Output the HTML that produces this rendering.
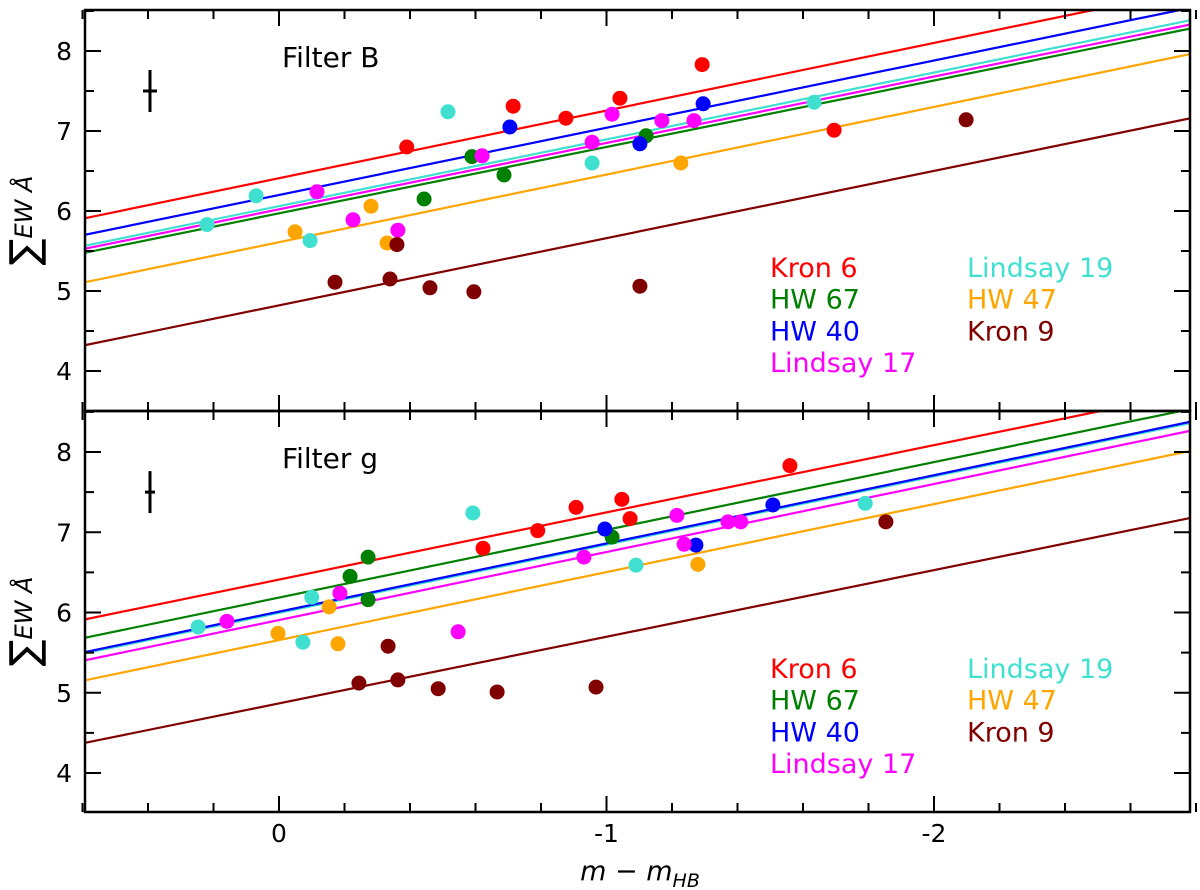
<!DOCTYPE html>
<html><head><meta charset="utf-8">
<style>
html,body{margin:0;padding:0;background:#fff;}
svg{display:block;font-family:"DejaVu Sans","Liberation Sans",sans-serif;}
</style></head>
<body>
<svg id="chart" width="1200" height="890" viewBox="0 0 1200 890" xmlns="http://www.w3.org/2000/svg">
<defs>
<clipPath id="clipTop"><rect x="85" y="10" width="1105" height="401"/></clipPath>
<clipPath id="clipBot"><rect x="85" y="411" width="1105" height="401"/></clipPath>
</defs>
<g id="plot"></g>
</svg>
<script>
// ---- data ----
const clusters = ["Kron 6","HW 67","HW 40","Lindsay 17","Lindsay 19","HW 47","Kron 9"];
const colors = ["#ff0000","#008000","#0000ff","#ff00ff","#40e0d0","#ffa500","#800000"];
const xTicks = [0,-1,-2];
const xTickLabels = ["0","-1","-2"];
const yTicks = [4,5,6,7,8];
const yTickLabels = ["4","5","6","7","8"];

// Filter B panel
const bX_kron6 = [-0.39,-0.715,-0.876,-1.041,-1.292,-1.695];
const bY_kron6 = [6.80,7.31,7.16,7.41,7.83,7.01];
const bX_hw67 = [-0.589,-0.687,-0.443,-1.121];
const bY_hw67 = [6.68,6.45,6.15,6.94];
const bX_hw40 = [-0.705,-1.102,-1.295];
const bY_hw40 = [7.05,6.84,7.34];
const bX_l17 = [-0.116,-0.226,-0.363,-0.62,-0.956,-1.017,-1.169,-1.267];
const bY_l17 = [6.24,5.89,5.76,6.69,6.86,7.21,7.13,7.13];
const bX_l19 = [-0.516,-0.956,0.22,0.07,-0.095,-1.634];
const bY_l19 = [7.24,6.60,5.83,6.19,5.63,7.36];
const bX_hw47 = [-0.049,-0.281,-0.33,-1.227];
const bY_hw47 = [5.74,6.06,5.60,6.60];
const bX_kron9 = [-0.171,-0.339,-0.36,-0.461,-0.595,-1.102,-2.098];
const bY_kron9 = [5.11,5.15,5.58,5.04,4.99,5.06,7.14];
const bIntercepts = [6.41,5.97,6.20,6.02,6.06,5.61,4.82];
const bSlopes = [0.845,0.83,0.84,0.83,0.835,0.845,0.84];

// Filter g panel
const gX_kron6 = [-0.623,-0.79,-0.907,-1.047,-1.072,-1.56];
const gY_kron6 = [6.80,7.02,7.31,7.41,7.17,7.83];
const gX_hw67 = [-0.272,-0.217,-0.272,-1.017];
const gY_hw67 = [6.69,6.45,6.16,6.94];
const gX_hw40 = [-0.995,-1.273,-1.508];
const gY_hw40 = [7.04,6.84,7.34];
const gX_l17 = [0.159,-0.186,-0.547,-0.931,-1.215,-1.237,-1.371,-1.41];
const gY_l17 = [5.89,6.24,5.76,6.69,7.21,6.85,7.13,7.13];
const gX_l19 = [0.247,-0.10,-0.073,-0.592,-1.09,-1.79];
const gY_l19 = [5.82,6.19,5.63,7.24,6.59,7.36];
const gX_hw47 = [0.003,-0.153,-0.18,-1.279];
const gY_hw47 = [5.74,6.07,5.61,6.60];
const gX_kron9 = [-0.244,-0.363,-0.486,-0.666,-0.968,-0.333,-1.853];
const gY_kron9 = [5.12,5.16,5.05,5.01,5.07,5.58,7.13];
const gIntercepts = [6.41,6.185,6.01,5.906,5.995,5.656,4.867];
const gSlopes = [0.837,0.844,0.85,0.847,0.85,0.847,0.83];

// ---- drawing ----
const NS = "http://www.w3.org/2000/svg";
const root = document.getElementById("plot");
const X0 = 85, X1 = 1190;
const xMin = 0.592, xMax = -2.783;
function xs(v){ return 279 - 327.5*v; }
const panels = [
  {top:10, bottom:411, y8:51, k:80, clip:"clipTop", title:"Filter B", pre:"b",
   xs:[bX_kron6,bX_hw67,bX_hw40,bX_l17,bX_l19,bX_hw47,bX_kron9],
   ys:[bY_kron6,bY_hw67,bY_hw40,bY_l17,bY_l19,bY_hw47,bY_kron9],
   ic:bIntercepts, sl:bSlopes},
  {top:411, bottom:812, y8:452, k:80.25, clip:"clipBot", title:"Filter g", pre:"g",
   xs:[gX_kron6,gX_hw67,gX_hw40,gX_l17,gX_l19,gX_hw47,gX_kron9],
   ys:[gY_kron6,gY_hw67,gY_hw40,gY_l17,gY_l19,gY_hw47,gY_kron9],
   ic:gIntercepts, sl:gSlopes}
];
function mk(tag, attrs, parent){
  const e = document.createElementNS(NS, tag);
  for (const k in attrs) e.setAttribute(k, attrs[k]);
  (parent||root).appendChild(e);
  return e;
}
const lineOrder = [6,5,1,3,4,2,0];
panels.forEach((p, pi) => {
  const ys = v => p.y8 + (8 - v)*p.k;
  const g = mk("g", {});
  
  
  // fit lines
  const lg = mk("g", {"clip-path":"url(#"+p.clip+")"}, g);
  lineOrder.forEach(i => {
    const yl = p.ic[i] - p.sl[i]*xMin, yr = p.ic[i] - p.sl[i]*xMax;
    const l = mk("line", {x1:X0, y1:ys(yl), x2:X1, y2:ys(yr), stroke:colors[i], "stroke-width":2.2}, lg);
    
    
  });
  // points
  const pg = mk("g", {"clip-path":"url(#"+p.clip+")"}, g);
  for (let i = 0; i < clusters.length; i++) {
    p.xs[i].forEach((xv, j) => {
      const c = mk("circle", {cx:xs(xv), cy:ys(p.ys[i][j]), r:7.5, fill:colors[i]}, pg);
      
      
    });
  }
  // frame
  const fr = mk("rect", {x:X0, y:p.top, width:X1-X0, height:p.bottom-p.top, fill:"none", stroke:"#000", "stroke-width":2.5}, g);
  
  
  // x ticks
  for (let t = 6; t >= -28; t -= 2) {
    const v = t/10, x = xs(v), major = (t % 10 === 0);
    const len = major ? 16 : 9;
    mk("line", {x1:x, y1:p.bottom, x2:x, y2:p.bottom-len, stroke:"#000", "stroke-width":2}, g);
    mk("line", {x1:x, y1:p.top, x2:x, y2:p.top+len, stroke:"#000", "stroke-width":2}, g);
  }
  // y ticks
  for (let t = 35; t <= 85; t += 5) {
    const v = t/10, y = ys(v), major = (t % 10 === 0);
    if (y < p.top-0.5 || y > p.bottom+0.5) continue;
    const len = major ? 16 : 9;
    mk("line", {x1:X0, y1:y, x2:X0+len, y2:y, stroke:"#000", "stroke-width":2}, g);
    mk("line", {x1:X1, y1:y, x2:X1-len, y2:y, stroke:"#000", "stroke-width":2}, g);
  }
  yTicks.forEach((v, i) => {
    const t = mk("text", {x:72, y:ys(v)+9, "text-anchor":"end", "font-size":25}, g);
    t.textContent = yTickLabels[i];
    
    
  });
  // title
  const tt = mk("text", {x:282, y:p.top+57, "font-size":28}, g);
  tt.textContent = p.title;
  
  
  // error bar
  const ey = ys(7.5);
  const eb = mk("g", {stroke:"#000", "stroke-width":3}, g);
  
  
  mk("line", {x1:150, y1:ey-21, x2:150, y2:ey+21}, eb);
  mk("line", {x1:pi===0?143:145, y1:ey, x2:pi===0?157:155, y2:ey}, eb);
  // y label
  const cy = (p.top + p.bottom)/2 + 10;
  const yl = mk("text", {transform:"translate(38,"+cy+") rotate(-90)", "text-anchor":"middle", "font-size":28}, g);
  
  
  const s1 = mk("tspan", {"font-size":40}, yl); s1.textContent = "∑";
  const s2 = mk("tspan", {"font-style":"italic", "font-size":24, dy:-6}, yl); s2.textContent = "EW Å";
  // legend
  const lx = [770,770,770,770,967,967,967];
  const lr = [0,1,2,3,0,1,2];
  for (let i = 0; i < clusters.length; i++) {
    const t = mk("text", {x:lx[i], y:p.top+267+lr[i]*31.7, "font-size":27, fill:colors[i]}, g);
    t.textContent = clusters[i];
    
    
  }
});
// x tick labels
xTicks.forEach((v, i) => {
  const t = mk("text", {x:xs(v), y:842, "text-anchor":"middle", "font-size":25});
  t.textContent = xTickLabels[i];
  
  
});
const xl = mk("text", {x:640, y:880, "text-anchor":"middle", "font-size":27, "font-style":"italic"});


const a1 = mk("tspan", {}, xl); a1.textContent = "m − m";
const a2 = mk("tspan", {"font-size":19, dy:7}, xl); a2.textContent = "HB";
</script>
</body></html>
